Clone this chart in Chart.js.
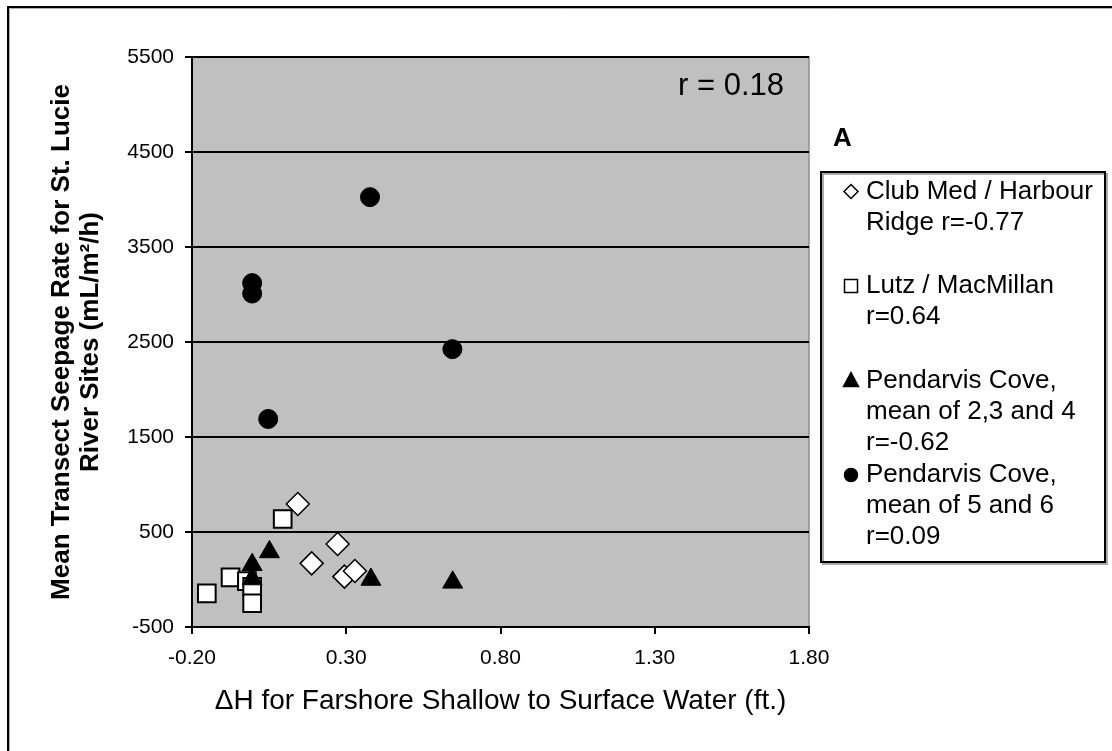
<!DOCTYPE html>
<html>
<head>
<meta charset="utf-8">
<script src="https://cdn.jsdelivr.net/npm/chart.js@4/dist/chart.umd.min.js"></script>
<style>
  html, body { margin: 0; padding: 0; background: #fff; }
  canvas { display: block; }
</style>
</head>
<body>
<canvas id="js--chart--1" width="1112" height="751"></canvas>
<script>
// axis ticks
const xTicks = [-0.2, 0.3, 0.8, 1.3, 1.8];
const yTicks = [-500, 500, 1500, 2500, 3500, 4500, 5500];

// series (x = dH ft, y = seepage mL/m2/h)
const clubMedX = [0.143, 0.272, 0.188, 0.294, 0.328];
const clubMedY = [795, 374, 170, 30, 89];

const lutzX = [0.094, -0.075, -0.152, -0.022, -0.005, -0.005];
const lutzY = [637, 23, -146, -18, -77, -250];

const pend234X = [0.051, -0.005, -0.005, 0.380, 0.645];
const pend234Y = [290, 155, 5, 0, -30];

const pend56X = [0.377, -0.005, -0.005, 0.644, 0.047];
const pend56Y = [4025, 3120, 3010, 2425, 1690];

const legendText = [
    ["Club Med / Harbour", "Ridge r=-0.77"],
    ["Lutz / MacMillan", "r=0.64"],
    ["Pendarvis Cove,", "mean of 2,3 and 4", "r=-0.62"],
    ["Pendarvis Cove,", "mean of 5 and 6", "r=0.09"]
];
const rText = "r = 0.18";
const panelLetter = "A";

const FONT = "'Liberation Sans', Arial, sans-serif";
Chart.defaults.font.family = FONT;
Chart.defaults.color = "#000";

function pts(xs, ys) {
    return xs.map((x, i) => ({x: x, y: ys[i]}));
}

// grey plot area + outer frame + legend box + texts
const decor = {
    id: "decor",
    beforeDraw(chart) {
        const {ctx, chartArea: a} = chart;
        ctx.save();
        ctx.fillStyle = "#c0c0c0";
        ctx.fillRect(a.left, a.top, a.right - a.left, a.bottom - a.top);
        ctx.strokeStyle = "#8c8c8c";
        ctx.lineWidth = 1.5;
        ctx.beginPath();
        ctx.moveTo(a.left, a.top);
        ctx.lineTo(a.right, a.top);
        ctx.lineTo(a.right, a.bottom);
        ctx.stroke();
        ctx.restore();
    },
    afterDraw(chart) {
        const {ctx} = chart;
        ctx.save();
        // outer frame (only top / left visible)
        ctx.strokeStyle = "#000";
        ctx.lineWidth = 2;
        ctx.beginPath();
        ctx.moveTo(8, 751);
        ctx.lineTo(8, 7);
        ctx.lineTo(1112, 7);
        ctx.stroke();
        ctx.strokeStyle = "#b0b0b0";
        ctx.lineWidth = 1;
        ctx.beginPath();
        ctx.moveTo(9.5, 751);
        ctx.lineTo(9.5, 8.5);
        ctx.lineTo(1112, 8.5);
        ctx.stroke();

        // r value
        ctx.fillStyle = "#000";
        ctx.font = "31px " + FONT;
        ctx.textAlign = "right";
        ctx.textBaseline = "middle";
        ctx.fillText(rText, 784, 86);

        // panel letter
        ctx.font = "bold 26px " + FONT;
        ctx.textAlign = "left";
        ctx.fillText(panelLetter, 833, 139);

        // legend box
        const bx = 821, by = 172, bw = 284, bh = 390;
        ctx.fillStyle = "#fff";
        ctx.fillRect(bx, by, bw, bh);
        ctx.strokeStyle = "#aaa";
        ctx.lineWidth = 2;
        ctx.strokeRect(bx + 2, by + 2, bw, bh);
        ctx.strokeStyle = "#000";
        ctx.strokeRect(bx, by, bw, bh);

        const styles = chart.data.datasets.map(d => d.pointStyle);
        ctx.font = "26px " + FONT;
        ctx.textBaseline = "middle";
        legendText.forEach((lines, i) => {
            const y0 = 191.5 + i * 94.5;
            const mx = 851;
            const st = styles[i];
            ctx.lineWidth = 1.5;
            ctx.strokeStyle = "#000";
            ctx.fillStyle = i < 2 ? "#fff" : "#000";
            ctx.beginPath();
            if (st === "rectRot") {
                ctx.moveTo(mx - 7, y0); ctx.lineTo(mx, y0 - 7);
                ctx.lineTo(mx + 7, y0); ctx.lineTo(mx, y0 + 7);
                ctx.closePath();
            } else if (st === "rect") {
                ctx.rect(mx - 6.5, y0 - 6.5, 13, 13);
            } else if (st === "triangle") {
                ctx.moveTo(mx, y0 - 8); ctx.lineTo(mx + 7.5, y0 + 6);
                ctx.lineTo(mx - 7.5, y0 + 6); ctx.closePath();
            } else {
                ctx.arc(mx, y0, 6.5, 0, Math.PI * 2);
            }
            ctx.fill();
            ctx.stroke();
            ctx.fillStyle = "#000";
            lines.forEach((t, j) => ctx.fillText(t, 866, y0 + j * 31));
        });
        ctx.restore();
    }
};

const data = {
    datasets: [{
        label: legendText[0].join(" "),
        data: pts(clubMedX, clubMedY),
        pointStyle: "rectRot",
        pointRadius: 11.5,
        backgroundColor: "#fff",
        borderColor: "#000",
        borderWidth: 1.5,
        order: 4
    }, {
        label: legendText[1].join(" "),
        data: pts(lutzX, lutzY),
        pointStyle: "rect",
        pointRadius: 12.5,
        backgroundColor: "#fff",
        borderColor: "#000",
        borderWidth: 2,
        order: 3
    }, {
        label: legendText[2].join(" "),
        data: pts(pend234X, pend234Y),
        pointStyle: "triangle",
        pointRadius: 11.5,
        backgroundColor: "#000",
        borderColor: "#000",
        borderWidth: 1,
        order: 2
    }, {
        label: legendText[3].join(" "),
        data: pts(pend56X, pend56Y),
        pointStyle: "circle",
        pointRadius: 9.5,
        backgroundColor: "#000",
        borderColor: "#000",
        borderWidth: 1,
        order: 1
    }]
};

const config = {
    type: "scatter",
    data: data,
    plugins: [decor],
    options: {
        responsive: false,
        animation: false,
        devicePixelRatio: 1,
        layout: {padding: {left: 48, top: 57, right: 303, bottom: 33}},
        plugins: {legend: {display: false}, tooltip: {enabled: false}},
        scales: {
            x: {
                type: "linear",
                min: -0.2,
                max: 1.8,
                afterBuildTicks: s => { s.ticks = xTicks.map(v => ({value: v})); },
                afterFit: s => { s.height = 91; },
                ticks: {
                    font: {size: 21},
                    padding: 12,
                    maxRotation: 0,
                    callback: v => v.toFixed(2)
                },
                grid: {drawOnChartArea: false, color: "#000", lineWidth: 2, tickLength: 7},
                border: {color: "#000", width: 2},
                title: {
                    display: true,
                    text: "ΔH for Farshore Shallow to Surface Water (ft.)",
                    font: {size: 28},
                    padding: 0
                }
            },
            y: {
                type: "linear",
                min: -500,
                max: 5500,
                afterBuildTicks: s => { s.ticks = yTicks.map(v => ({value: v})); },
                afterFit: s => { s.width = 144; },
                ticks: {font: {size: 21}, padding: 11, callback: v => String(v)},
                grid: {
                    color: c => (c.tick && c.tick.value === 5500 && c.type !== "tick") ? "#8c8c8c" : "#000",
                    lineWidth: 2,
                    tickLength: 7
                },
                border: {color: "#000", width: 2},
                title: {
                    display: true,
                    text: ["Mean Transect Seepage Rate for St. Lucie", "River Sites (mL/m²/h)"],
                    font: {size: 26, weight: "bold", lineHeight: 1.1},
                    padding: 0
                }
            }
        }
    }
};

new Chart(document.getElementById("js--chart--1"), config);
</script>
</body>
</html>
